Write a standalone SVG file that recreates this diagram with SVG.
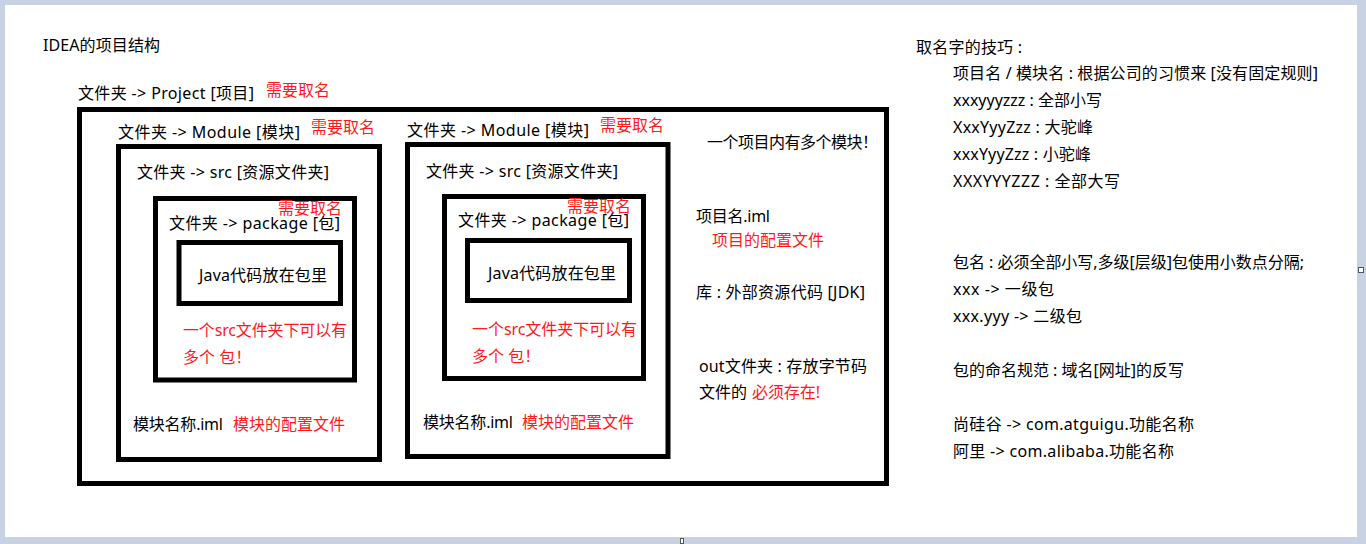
<svg xmlns="http://www.w3.org/2000/svg" width="1366" height="544" viewBox="0 0 1366 544">
<style>
text{font-family:"Noto Sans","Noto Sans CJK SC",sans-serif;font-size:16px;fill:#000}
.r{fill:#ff1a1a}
.box{fill:none;stroke:#000;stroke-width:5}
</style>
<rect x="0" y="0" width="1366" height="544" fill="#c9d2e2"/>
<rect x="5" y="5" width="1352" height="532" fill="#fff"/>
<rect x="1358.5" y="267.5" width="5" height="5" fill="#fff" stroke="#555" stroke-width="1"/>
<rect x="680.5" y="538.5" width="3" height="5" fill="#fff" stroke="#555" stroke-width="1"/>

<g id="title"><text x="43" y="51" textLength="117" lengthAdjust="spacing">IDEA的项目结构</text></g>

<g id="project">
<text x="78" y="99" textLength="176" lengthAdjust="spacing">文件夹 -&gt; Project [项目]</text>
<text class="r" x="266" y="96">需要取名</text>
<rect class="box" x="79.5" y="109.5" width="807" height="374"/>
<text x="707" y="148" textLength="171" lengthAdjust="spacing">一个项目内有多个模块！</text>
<text x="696" y="222" textLength="74" lengthAdjust="spacing">项目名.iml</text>
<text class="r" x="712" y="246">项目的配置文件</text>
<text x="696" y="298" textLength="169" lengthAdjust="spacing">库 : 外部资源代码 [JDK]</text>
<text x="699" y="372" textLength="168" lengthAdjust="spacing">out文件夹 : 存放字节码</text>
<text x="699" y="398">文件的</text>
<text class="r" x="752" y="398" textLength="68" lengthAdjust="spacing">必须存在!</text>
</g>

<g id="module1">
<text x="118" y="138" textLength="182" lengthAdjust="spacing">文件夹 -&gt; Module [模块]</text>
<text class="r" x="311" y="133">需要取名</text>
<rect class="box" x="118.5" y="146.5" width="261" height="313"/>
<text x="137" y="178" textLength="192" lengthAdjust="spacing">文件夹 -&gt; src [资源文件夹]</text>
<text x="133" y="430" textLength="90" lengthAdjust="spacing">模块名称.iml</text>
<text class="r" x="233" y="430">模块的配置文件</text>
</g>

<g id="package1">
<rect class="box" x="155.5" y="198.5" width="199" height="181.5"/>
<text x="169" y="229" textLength="171" lengthAdjust="spacing">文件夹 -&gt; package [包]</text>
<text class="r" x="278" y="214">需要取名</text>
<text class="r" x="183" y="336" textLength="164" lengthAdjust="spacing">一个src文件夹下可以有</text>
<text class="r" x="183" y="363">多个 包！</text>
</g>

<g id="java1">
<rect class="box" x="179" y="242.5" width="161.5" height="61"/>
<text x="199" y="281" textLength="128" lengthAdjust="spacing">Java代码放在包里</text>
</g>

<g id="module2">
<text x="407" y="136" textLength="182" lengthAdjust="spacing">文件夹 -&gt; Module [模块]</text>
<text class="r" x="600" y="131">需要取名</text>
<rect class="box" x="407.5" y="144.5" width="260.5" height="312"/>
<text x="426" y="177" textLength="192" lengthAdjust="spacing">文件夹 -&gt; src [资源文件夹]</text>
<text x="423" y="428" textLength="90" lengthAdjust="spacing">模块名称.iml</text>
<text class="r" x="522" y="428">模块的配置文件</text>
</g>

<g id="package2">
<rect class="box" x="444.5" y="196.5" width="199" height="182"/>
<text x="458" y="226" textLength="171" lengthAdjust="spacing">文件夹 -&gt; package [包]</text>
<text class="r" x="567" y="212">需要取名</text>
<text class="r" x="472" y="335" textLength="165" lengthAdjust="spacing">一个src文件夹下可以有</text>
<text class="r" x="472" y="362">多个 包！</text>
</g>

<g id="java2">
<rect class="box" x="467.5" y="240.5" width="162" height="60"/>
<text x="488" y="279" textLength="128" lengthAdjust="spacing">Java代码放在包里</text>
</g>

<g id="naming">
<text x="916" y="53" textLength="106" lengthAdjust="spacing">取名字的技巧 :</text>
<text x="953" y="79" textLength="365" lengthAdjust="spacing">项目名 / 模块名 : 根据公司的习惯来 [没有固定规则]</text>
<text x="953" y="106" textLength="149" lengthAdjust="spacing">xxxyyyzzz : 全部小写</text>
<text x="953" y="133" textLength="140" lengthAdjust="spacing">XxxYyyZzz : 大驼峰</text>
<text x="953" y="160" textLength="138" lengthAdjust="spacing">xxxYyyZzz : 小驼峰</text>
<text x="953" y="187" textLength="167" lengthAdjust="spacing">XXXYYYZZZ : 全部大写</text>
<text x="953" y="268" textLength="351" lengthAdjust="spacing">包名 : 必须全部小写,多级[层级]包使用小数点分隔;</text>
<text x="953" y="295" textLength="101" lengthAdjust="spacing">xxx -&gt; 一级包</text>
<text x="953" y="322" textLength="129" lengthAdjust="spacing">xxx.yyy -&gt; 二级包</text>
<text x="953" y="376" textLength="231" lengthAdjust="spacing">包的命名规范 : 域名[网址]的反写</text>
<text x="953" y="430" textLength="241" lengthAdjust="spacing">尚硅谷 -&gt; com.atguigu.功能名称</text>
<text x="953" y="457" textLength="221" lengthAdjust="spacing">阿里 -&gt; com.alibaba.功能名称</text>
</g>

<g id="connectors"></g>
</svg>
